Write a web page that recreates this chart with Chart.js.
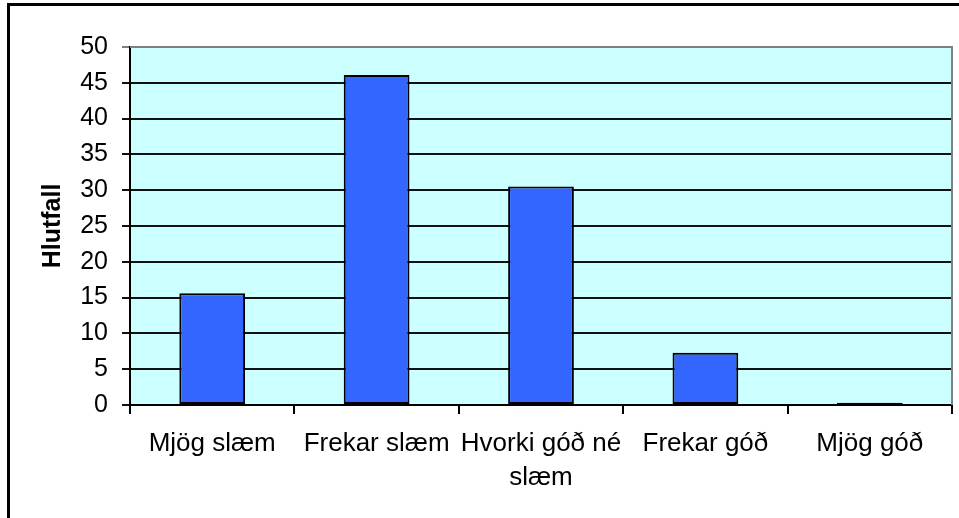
<!DOCTYPE html>
<html>
<head>
<meta charset="utf-8">
<script src="https://cdn.jsdelivr.net/npm/chart.js@4/dist/chart.umd.min.js"></script>
<style>
  html, body { margin: 0; padding: 0; background: #fff; }
  #wrap { position: relative; width: 959px; height: 518px; overflow: hidden; }
  #frame { position: absolute; left: 7px; top: 3px; width: 1000px; height: 600px; border: 3px solid #000; box-sizing: border-box; }
  canvas { position: absolute; left: 0; top: 0; }
</style>
</head>
<body>
<div id="wrap">
  <div id="frame"></div>
  <canvas id="chart" width="959" height="518"></canvas>
</div>
<script>
var categories = ['Mjög slæm', 'Frekar slæm', ['Hvorki góð né', 'slæm'], 'Frekar góð', 'Mjög góð'];
var hlutfall = [15.6, 46.1, 30.5, 7.3, 0.3];
var yTicks = [0, 5, 10, 15, 20, 25, 30, 35, 40, 45, 50];

// light cyan plot area with grey top/right edge, like the old Excel chart
var plotArea = {
  id: 'plotArea',
  beforeDraw: function(chart) {
    var a = chart.chartArea, ctx = chart.ctx;
    ctx.save();
    ctx.fillStyle = '#ccffff';
    ctx.fillRect(a.left, a.top, a.right - a.left, a.bottom - a.top);
    ctx.restore();
  },
  afterDatasetsDraw: function(chart) {
    var a = chart.chartArea, ctx = chart.ctx;
    ctx.save();
    ctx.strokeStyle = '#808080';
    ctx.lineWidth = 2;
    ctx.beginPath();
    ctx.moveTo(a.left, a.top);
    ctx.lineTo(a.right, a.top);
    ctx.lineTo(a.right, a.bottom);
    ctx.stroke();
    ctx.restore();
  }
};

var ctx = document.getElementById('chart').getContext('2d');
new Chart(ctx, {
  type: 'bar',
  data: {
    labels: categories,
    datasets: [{
      label: 'Hlutfall',
      data: hlutfall,
      backgroundColor: '#3366ff',
      borderColor: '#000',
      borderWidth: 2,
      borderSkipped: false,
      categoryPercentage: 1,
      barPercentage: 0.4
    }]
  },
  options: {
    responsive: false,
    animation: false,
    layout: { padding: { left: 8, top: 47, right: 7, bottom: 0 } },
    plugins: { legend: { display: false }, tooltip: { enabled: false } },
    scales: {
      x: {
        grid: { drawOnChartArea: false, drawTicks: true, tickLength: 9, color: '#000', lineWidth: 2 },
        border: { color: '#000', width: 2 },
        ticks: { color: '#000', padding: 13, maxRotation: 0, autoSkip: false,
          font: { family: 'Liberation Sans, Arial, sans-serif', size: 26, lineHeight: 1.31 } },
        afterFit: function(scale) { scale.height = 113; }
      },
      y: {
        min: 0,
        max: 50,
        afterBuildTicks: function(scale) {
          scale.ticks = yTicks.map(function(v) { return { value: v }; });
        },
        grid: {
          tickLength: 8,
          lineWidth: 2,
          color: function(c) { return c.tick && c.tick.value === 50 ? '#808080' : '#111'; }
        },
        border: { color: '#000', width: 2 },
        ticks: { color: '#000', padding: 14,
          font: { family: 'Liberation Sans, Arial, sans-serif', size: 25 } },
        title: {
          display: true,
          text: 'Hlutfall',
          color: '#000',
          padding: { top: 30, bottom: 0 },
          font: { family: 'Liberation Sans, Arial, sans-serif', size: 25, weight: 'bold' }
        },
        afterFit: function(scale) { scale.width = 122; }
      }
    }
  },
  plugins: [plotArea]
});
</script>
</body>
</html>
